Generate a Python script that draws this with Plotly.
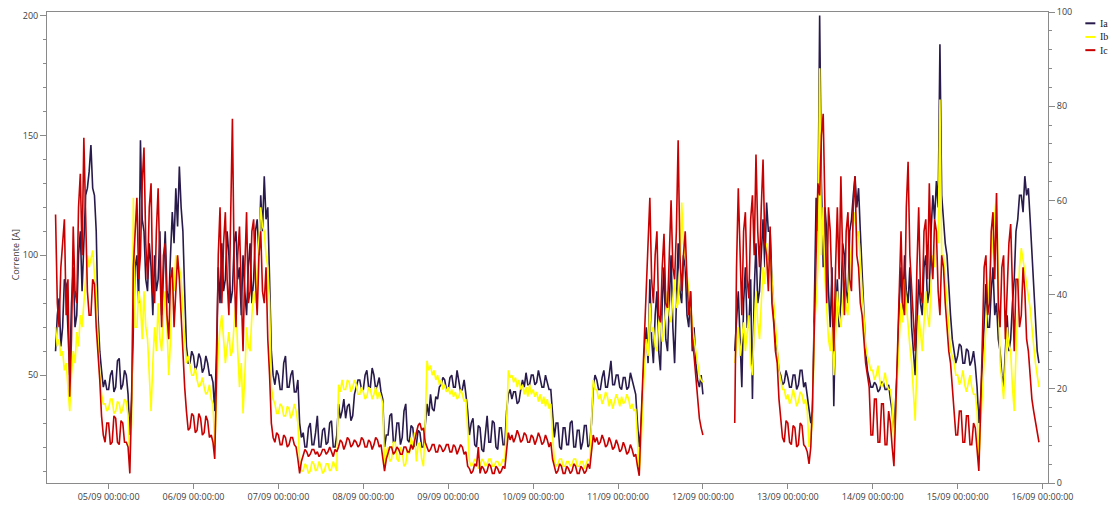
import pandas as pd
import plotly.graph_objects as go

# Half-hourly phase-current readings, 04/09 09:00 to 15/09 23:00 (None = no record)
time = pd.date_range("2019-09-04 09:00", "2019-09-15 23:00", freq="30min")
NA = [None] * 16

ia = [
    # 04/09
    60, 75, 82, 62, 70, 90, 88, 65, 50, 80, 95, 70, 75, 100, 110, 85, 105, 125, 128, 135,
    146, 128, 125, 110, 75, 60, 52, 45, 48, 44,
    # 05/09
    44, 50, 52, 43, 45, 56, 57, 44, 46, 52, 50, 42, 25, 40, 70, 95, 100, 80, 148, 115,
    110, 90, 85, 105, 95, 75, 100, 85, 90, 110, 75, 95, 110, 85, 80, 100, 118, 105, 128, 112,
    137, 120, 110, 85, 62, 55, 55, 60,
    # 06/09
    58, 52, 54, 59, 57, 51, 53, 58, 55, 50, 50, 47, 35, 60, 95, 80, 105, 85, 90, 110,
    100, 80, 85, 105, 110, 90, 95, 75, 100, 85, 75, 95, 105, 80, 90, 110, 115, 100, 125, 110,
    133, 115, 120, 90, 60, 50, 46, 52,
    # 07/09
    50, 44, 44, 55, 58, 45, 45, 50, 52, 43, 43, 48, 30, 24, 26, 20, 20, 28, 30, 21,
    21, 26, 33, 20, 20, 27, 28, 21, 22, 30, 31, 20, 20, 25, 38, 32, 35, 40, 32, 37,
    38, 31, 33, 42, 45, 48, 48, 44,
    # 08/09
    44, 50, 52, 45, 45, 53, 50, 44, 46, 49, 43, 40, 20, 25, 25, 33, 34, 22, 22, 30,
    30, 21, 24, 35, 38, 23, 22, 29, 28, 20, 21, 27, 26, 20, 20, 30, 38, 33, 42, 36,
    35, 41, 40, 45, 46, 49, 48, 44,
    # 09/09
    44, 49, 50, 45, 45, 52, 47, 43, 44, 48, 42, 35, 25, 30, 32, 21, 20, 29, 28, 19,
    18, 27, 33, 22, 22, 31, 30, 20, 19, 28, 28, 21, 21, 35, 42, 44, 40, 43, 43, 38,
    39, 44, 48, 45, 51, 46, 46, 50,
    # 10/09
    50, 46, 47, 52, 49, 45, 45, 50, 47, 44, 44, 35, 24, 30, 30, 20, 19, 28, 28, 21,
    21, 30, 31, 20, 20, 27, 27, 19, 22, 29, 29, 20, 21, 30, 45, 50, 48, 44, 44, 49,
    52, 45, 45, 50, 56, 46, 46, 50,
    # 11/09
    50, 45, 44, 49, 49, 44, 45, 51, 48, 44, 42, 30, 20, 28, 45, 60, 70, 55, 90, 65,
    55, 75, 85, 60, 52, 80, 95, 65, 60, 85, 100, 70, 55, 80, 105, 85, 80, 100, 95, 75,
    70, 85, 60, 70, 55, 48, 45, 50,
    # 12/09 (no record 00:30-08:30)
    42, None] + NA + [
    60, 75, 85, 65, 45, 80, 95, 70, 70, 90, 40, 85, 105, 80, 85, 100, 115, 95, 122, 110,
    110, 90, 75, 65, 60, 52, 50, 46, 47, 52,
    # 13/09
    49, 45, 45, 50, 50, 44, 46, 52, 52, 45, 47, 42, 35, 30, 35, 90, 124, 110, 200, 130,
    95, 120, 110, 85, 70, 95, 37, 75, 90, 70, 80, 105, 100, 85, 80, 110, 115, 125, 133, 120,
    128, 110, 95, 75, 60, 52, 48, 45,
    # 14/09
    45, 47, 46, 43, 44, 47, 47, 44, 44, 46, 40, 35, 25, 40, 55, 80, 95, 75, 100, 85,
    80, 95, 70, 60, 50, 70, 90, 80, 75, 95, 100, 80, 85, 110, 125, 115, 131, 120, 188, 125,
    115, 105, 100, 85, 75, 65, 60, 55,
    # 15/09
    58, 63, 62, 55, 55, 61, 60, 54, 56, 60, 54, 45, 30, 40, 55, 75, 88, 70, 70, 85,
    95, 75, 80, 65, 60, 50, 45, 60, 75, 60, 65, 80, 90, 110, 115, 125, 125, 118, 133, 125,
    128, 115, 100, 85, 70, 60, 55,
]

ib = [
    # 04/09
    70, 62, 65, 58, 60, 52, 55, 45, 35, 50, 60, 55, 68, 62, 75, 70, 80, 90, 100, 95,
    98, 102, 92, 85, 65, 50, 42, 38, 38, 35,
    # 05/09
    36, 40, 40, 34, 35, 39, 38, 34, 36, 40, 39, 33, 15, 30, 124, 70, 70, 85, 80, 65,
    85, 70, 65, 50, 35, 55, 70, 60, 80, 65, 60, 75, 85, 70, 50, 65, 90, 85, 100, 95,
    95, 90, 75, 65, 55, 58, 54, 50,
    # 06/09
    50, 53, 48, 45, 46, 49, 45, 42, 43, 46, 40, 38, 20, 40, 60, 70, 75, 65, 55, 62,
    68, 58, 60, 72, 80, 60, 45, 55, 34, 50, 70, 62, 60, 75, 85, 80, 95, 105, 120, 112,
    110, 100, 95, 80, 45, 40, 38, 34,
    # 07/09
    34, 38, 37, 33, 33, 37, 36, 32, 34, 38, 35, 30, 14, 10, 10, 13, 12, 9, 10, 14,
    13, 10, 11, 14, 12, 9, 10, 13, 13, 10, 11, 14, 12, 10, 46, 43, 48, 44, 44, 48,
    47, 43, 45, 48, 46, 42, 42, 45,
    # 08/09
    43, 40, 41, 45, 44, 40, 42, 45, 40, 43, 41, 38, 12, 18, 20, 14, 15, 22, 22, 15,
    14, 20, 18, 12, 13, 19, 17, 24, 20, 26, 14, 21, 22, 15, 12, 30, 56, 52, 54, 50,
    52, 48, 50, 46, 48, 44, 46, 43,
    # 09/09
    45, 42, 44, 41, 43, 40, 41, 44, 42, 39, 40, 25, 14, 12, 13, 15, 14, 11, 12, 15,
    14, 12, 13, 15, 15, 12, 12, 14, 14, 12, 13, 15, 14, 30, 52, 49, 50, 47, 49, 45,
    48, 44, 46, 42, 45, 41, 46, 42,
    # 10/09
    44, 41, 43, 39, 42, 38, 41, 37, 40, 36, 38, 25, 14, 12, 13, 15, 15, 12, 12, 14,
    14, 12, 13, 15, 15, 12, 12, 14, 14, 11, 13, 15, 14, 30, 48, 44, 44, 40, 42, 38,
    40, 43, 41, 37, 40, 36, 39, 42,
    # 11/09
    40, 37, 41, 38, 39, 42, 40, 36, 38, 35, 36, 25, 10, 20, 40, 55, 65, 58, 80, 68,
    70, 62, 60, 72, 75, 64, 68, 78, 85, 75, 72, 82, 90, 78, 80, 95, 122, 105, 100, 92,
    85, 78, 70, 65, 60, 55, 50, 48,
    # 12/09 (no record 00:30-08:30)
    47, None] + NA + [
    55, 62, 70, 58, 65, 72, 60, 68, 75, 55, 50, 70, 85, 72, 65, 80, 95, 88, 105, 98,
    100, 90, 80, 70, 60, 52, 48, 44, 44, 40,
    # 13/09
    42, 38, 40, 44, 41, 37, 39, 43, 42, 38, 40, 35, 20, 25, 30, 70, 80, 95, 178, 100,
    120, 90, 75, 65, 60, 70, 50, 65, 85, 75, 70, 80, 90, 78, 75, 95, 105, 112, 118, 108,
    110, 95, 85, 75, 62, 58, 55, 52,
    # 14/09
    52, 48, 50, 54, 48, 45, 47, 51, 46, 44, 44, 38, 20, 35, 50, 70, 80, 72, 90, 80,
    70, 62, 55, 45, 31, 55, 75, 68, 60, 72, 85, 75, 70, 88, 100, 95, 110, 105, 165, 100,
    100, 90, 80, 70, 60, 58, 55, 50,
    # 15/09
    50, 46, 48, 52, 46, 43, 47, 50, 45, 42, 42, 35, 15, 30, 45, 60, 70, 80, 90, 100,
    110, 118, 126, 90, 55, 48, 40, 55, 70, 62, 60, 45, 35, 60, 80, 95, 103, 98, 95, 90,
    85, 78, 70, 62, 55, 50, 45,
]

ic = [
    # 04/09
    117, 80, 70, 95, 105, 115, 75, 90, 41, 65, 112, 85, 80, 120, 134, 100, 149, 110, 85, 75,
    75, 90, 88, 70, 60, 48, 33, 25, 22, 30,
    # 05/09
    30, 21, 22, 33, 32, 22, 21, 31, 30, 22, 22, 20, 9, 40, 95, 110, 124, 90, 100, 130,
    145, 105, 90, 120, 130, 85, 80, 110, 128, 95, 70, 100, 105, 75, 65, 90, 95, 70, 85, 100,
    90, 75, 55, 45, 35, 27, 28, 34,
    # 06/09
    33, 26, 27, 34, 32, 25, 26, 33, 31, 24, 25, 22, 15, 50, 100, 120, 80, 105, 118, 90,
    75, 110, 157, 95, 70, 100, 112, 85, 60, 95, 118, 80, 85, 110, 115, 90, 75, 100, 110, 85,
    80, 95, 65, 50, 30, 24, 22, 26,
    # 07/09
    25, 21, 21, 25, 24, 20, 21, 24, 24, 21, 20, 15, 9, 14, 17, 19, 18, 16, 17, 19,
    19, 17, 18, 16, 17, 19, 19, 17, 18, 20, 18, 16, 19, 18, 20, 23, 22, 19, 21, 24,
    23, 20, 21, 23, 22, 20, 21, 24,
    # 08/09
    23, 20, 20, 23, 22, 19, 21, 24, 23, 20, 21, 15, 10, 15, 18, 20, 20, 17, 18, 20,
    19, 17, 17, 20, 20, 18, 18, 21, 19, 23, 26, 29, 30, 27, 28, 22, 20, 18, 19, 21,
    21, 18, 18, 21, 20, 18, 19, 21,
    # 09/09
    21, 18, 18, 21, 20, 17, 19, 21, 20, 17, 18, 12, 11, 9, 10, 13, 12, 20, 9, 12,
    11, 9, 10, 13, 12, 9, 9, 12, 11, 9, 10, 12, 11, 18, 26, 23, 25, 22, 24, 27,
    25, 22, 23, 26, 25, 22, 22, 25,
    # 10/09
    24, 21, 23, 26, 24, 21, 22, 25, 23, 20, 22, 15, 12, 9, 10, 13, 12, 9, 9, 12,
    11, 9, 10, 13, 12, 9, 9, 12, 11, 9, 10, 13, 11, 18, 25, 22, 24, 21, 22, 25,
    23, 20, 21, 24, 22, 19, 20, 23,
    # 11/09
    21, 18, 19, 22, 20, 17, 18, 21, 19, 16, 17, 12, 8, 30, 50, 70, 88, 105, 124, 90,
    80, 100, 110, 75, 72, 95, 109, 80, 78, 100, 123, 95, 90, 110, 148, 100, 85, 100, 110, 90,
    75, 85, 65, 58, 50, 40, 32, 28,
    # 12/09 (no record 00:30-08:30)
    25, None] + NA + [
    30, 95, 128, 100, 75, 110, 118, 90, 82, 115, 125, 100, 142, 110, 95, 120, 140, 105, 100, 85,
    112, 80, 72, 60, 55, 40, 33, 24, 22, 31,
    # 13/09
    30, 22, 21, 29, 28, 20, 21, 30, 29, 21, 20, 18, 13, 20, 40, 75, 100, 130, 125, 150,
    159, 110, 80, 120, 110, 85, 60, 95, 120, 90, 133, 100, 75, 110, 118, 90, 85, 120, 133, 100,
    95, 80, 75, 65, 55, 50, 45, 25,
    # 14/09
    25, 40, 40, 22, 22, 38, 38, 21, 21, 35, 30, 20, 12, 35, 60, 90, 110, 80, 75, 120,
    139, 100, 85, 70, 60, 95, 120, 85, 80, 110, 115, 90, 130, 100, 90, 115, 110, 85, 75, 100,
    95, 80, 70, 60, 55, 45, 38, 25,
    # 15/09
    25, 35, 35, 22, 22, 33, 33, 21, 21, 30, 28, 20, 10, 35, 70, 95, 100, 75, 80, 110,
    118, 90, 126, 80, 70, 95, 100, 65, 85, 105, 113, 80, 60, 90, 90, 70, 75, 95, 85, 65,
    60, 50, 40, 35, 30, 25, 22,
]

assert len(ia) == len(ib) == len(ic) == len(time), (len(ia), len(ib), len(ic), len(time))

names = ["Ia", "Ib", "Ic"]
colors = ["#281a4a", "#ffff00", "#c80000"]
series = [ia, ib, ic]

axis_grey = "#8a8a8a"
text_grey = "#404040"

fig = go.Figure()
for name, col, vals in zip(names, colors, series):
    fig.add_trace(go.Scatter(
        x=time, y=vals, name=name, mode="lines",
        line=dict(color=col, width=1.6),
        connectgaps=False,
    ))

# secondary scale on the right (no series plotted against it)
fig.add_trace(go.Scatter(x=[time[0]], y=[None], yaxis="y2",
                         showlegend=False, hoverinfo="skip"))

fig.update_layout(
    width=1112, height=506,
    margin=dict(l=47, r=64, t=12, b=23),
    paper_bgcolor="white", plot_bgcolor="white",
    showlegend=False,
    font=dict(family="Open Sans", size=9, color=text_grey),
    xaxis=dict(
        type="date", automargin=False,
        range=["2019-09-04 06:35", "2019-09-16 01:33"],
        tick0="2019-09-05", dtick=86400000,
        tickformat="%d/%m %H:%M:%S",
        ticks="outside", ticklen=5, tickcolor=axis_grey,
        showline=True, linecolor=axis_grey, linewidth=1, mirror=True,
        showgrid=False, zeroline=False,
    ),
    yaxis=dict(
        automargin=False,
        range=[5, 201.5],
        tickvals=[50, 100, 150, 200],
        ticks="outside", ticklen=6, tickcolor=axis_grey,
        minor=dict(dtick=10, tick0=0, ticks="outside", ticklen=3, tickcolor=axis_grey),
        showline=True, linecolor=axis_grey, linewidth=1,
        showgrid=False, zeroline=False,
    ),
    yaxis2=dict(
        automargin=False,
        overlaying="y", side="right",
        range=[0, 100], dtick=20,
        ticks="outside", ticklen=6, tickcolor=axis_grey,
        minor=dict(dtick=4, tick0=0, ticks="outside", ticklen=3, tickcolor=axis_grey),
        showline=True, linecolor=axis_grey, linewidth=1,
        showgrid=False, zeroline=False,
    ),
)

# axis title
fig.add_annotation(
    text="Corrente [A]", xref="paper", yref="paper",
    x=-0.0317, y=0.484, xanchor="center", yanchor="middle",
    textangle=-90, showarrow=False,
    font=dict(family="Open Sans", size=9, color=text_grey),
)

# compact legend in the top-right corner
leg_y = [0.976, 0.947, 0.919]
for name, col, yy in zip(names, colors, leg_y):
    fig.add_shape(type="line", xref="paper", yref="paper",
                  x0=1.0373, x1=1.0473, y0=yy, y1=yy,
                  line=dict(color=col, width=2))
    fig.add_annotation(text=name, xref="paper", yref="paper",
                       x=1.0495, y=yy, xanchor="left", yanchor="middle",
                       showarrow=False,
                       font=dict(family="Liberation Serif", size=10, color="#202020"))

fig.write_html("out.html")
